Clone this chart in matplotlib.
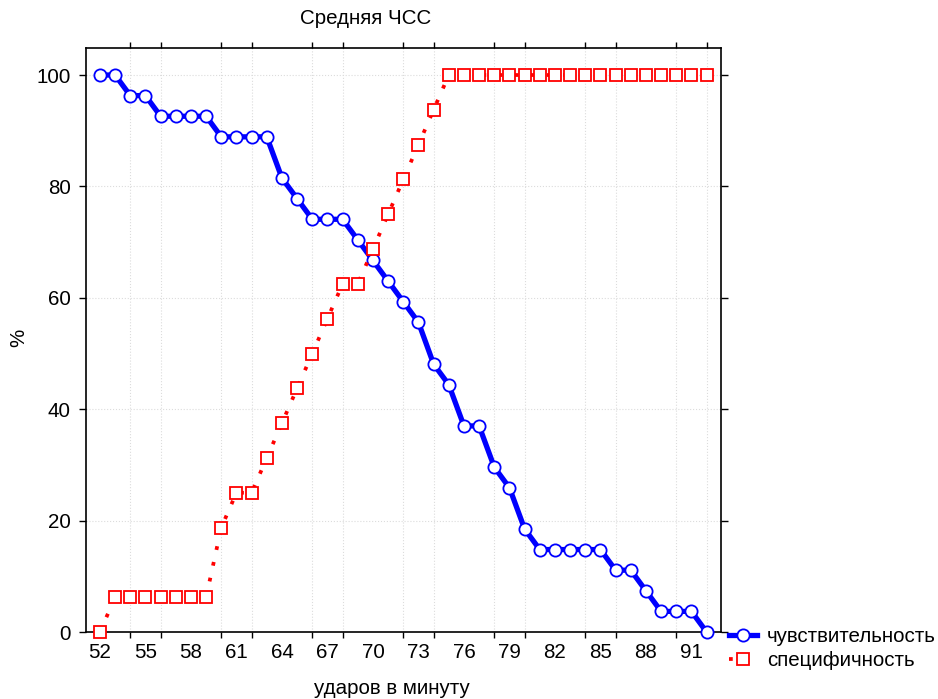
import matplotlib.pyplot as plt
from matplotlib.ticker import FixedLocator, NullFormatter

plt.switch_backend('agg')
plt.rcParams['font.family'] = ['Liberation Sans', 'DejaVu Sans']

# Heart rate thresholds, beats per minute
bpm = list(range(52, 93))

# Sensitivity, % (steps of 1/27)
sensitivity = [
    100.0, 100.0, 96.3, 96.3, 92.6, 92.6, 92.6, 92.6, 88.9, 88.9,
    88.9, 88.9, 81.5, 77.8, 74.1, 74.1, 74.1, 70.4, 66.7, 63.0,
    59.3, 55.6, 48.1, 44.4, 37.0, 37.0, 29.6, 25.9, 18.5, 14.8,
    14.8, 14.8, 14.8, 14.8, 11.1, 11.1, 7.4, 3.7, 3.7, 3.7,
    0.0,
]

# Specificity, % (steps of 1/16)
specificity = [
    0.0, 6.25, 6.25, 6.25, 6.25, 6.25, 6.25, 6.25, 18.75, 25.0,
    25.0, 31.25, 37.5, 43.75, 50.0, 56.25, 62.5, 62.5, 68.75, 75.0,
    81.25, 87.5, 93.75, 100.0, 100.0, 100.0, 100.0, 100.0, 100.0, 100.0,
    100.0, 100.0, 100.0, 100.0, 100.0, 100.0, 100.0, 100.0, 100.0, 100.0,
    100.0,
]

label_ticks = list(range(52, 93, 3))
minor_ticks = list(range(52, 93, 2))
y_ticks = [0, 20, 40, 60, 80, 100]

title = 'Средняя ЧСС'
x_label = 'ударов в минуту'
y_label = '%'
series_labels = ['чувствительность', 'специфичность']

fs = 14.8

fig = plt.figure(figsize=(9.38, 6.99), dpi=100)
ax = fig.add_axes([86 / 938, 1 - 632 / 699, (721 - 86) / 938, (632 - 48) / 699])

ax.plot(bpm, sensitivity, color='#0000ff', linewidth=3.8, marker='o',
        markersize=8.8, markerfacecolor='white', markeredgecolor='#0000ff',
        markeredgewidth=1.3, label=series_labels[0], clip_on=False, zorder=3)
ax.plot(bpm, specificity, color='#ff0000', linewidth=2.7, linestyle=(0, (1.0, 3.3)),
        marker='s', markersize=8, markerfacecolor='white', markeredgecolor='#ff0000',
        markeredgewidth=1.3, label=series_labels[1], clip_on=False, zorder=4)

ax.set_xlim(51.08, 92.95)
ax.set_ylim(0, 104.85)

# labels every 3 bpm, tick marks + grid every 2 bpm
ax.xaxis.set_major_locator(FixedLocator(label_ticks))
ax.xaxis.set_minor_locator(FixedLocator(minor_ticks))
ax.xaxis.set_minor_formatter(NullFormatter())
ax.tick_params(axis='x', which='major', length=0, pad=8, labelsize=fs)
ax.tick_params(axis='x', which='minor', length=4, width=1, direction='out',
               top=True, bottom=True)
ax.set_yticks(y_ticks)
ax.tick_params(axis='y', which='major', length=5, width=1, direction='out',
               labelsize=fs, right=True, pad=6)

ax.grid(which='minor', axis='x', color='#dcdcdc', linestyle=':', linewidth=0.8)
ax.grid(which='major', axis='y', color='#dcdcdc', linestyle=':', linewidth=0.8)
ax.set_axisbelow(True)
for s in ax.spines.values():
    s.set_linewidth(1.2)

fig.text(366 / 938, 1 - 18 / 699, title, ha='center', va='center', fontsize=fs)
fig.text(392 / 938, 1 - 688 / 699, x_label, ha='center', va='center', fontsize=fs)
fig.text(19 / 938, 1 - 338 / 699, y_label, ha='center', va='center', fontsize=fs,
         rotation=90)

ax.legend(loc='upper left', bbox_to_anchor=(729 / 938, 1 - 627 / 699),
          bbox_transform=fig.transFigure, frameon=False, fontsize=fs,
          handlelength=1.35, handletextpad=0.5, labelspacing=0.25,
          borderaxespad=0, borderpad=0)

fig.savefig('out.png', dpi=100)
